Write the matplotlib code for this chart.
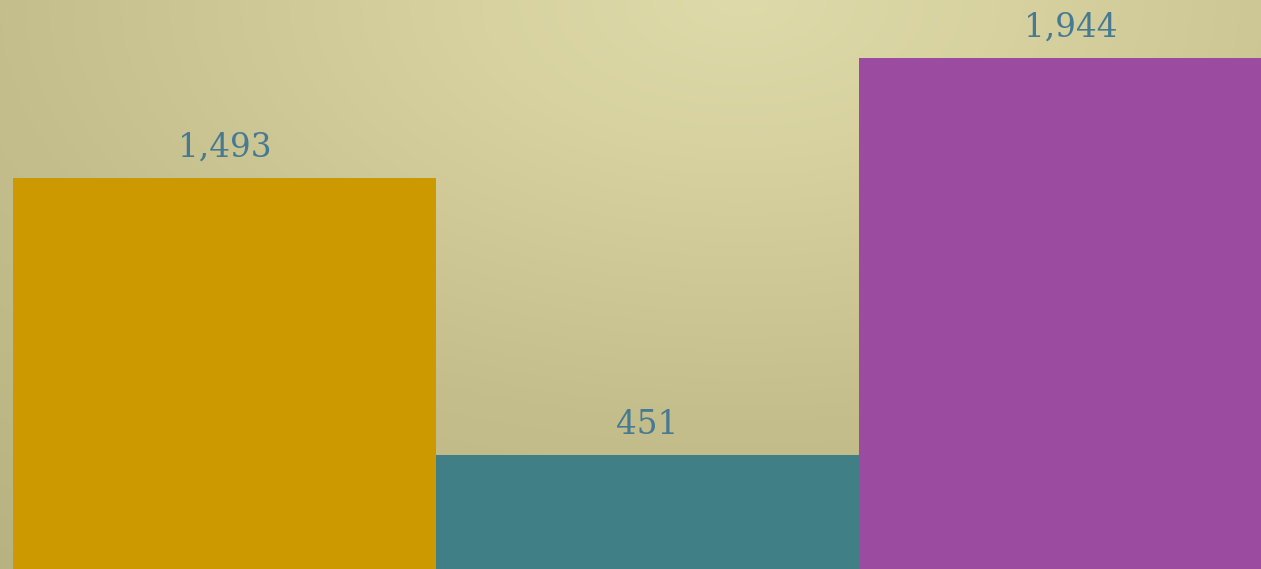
import numpy as np
import matplotlib
matplotlib.use("Agg")
import matplotlib.pyplot as plt
from matplotlib.colors import to_rgb

# Data
categories = ["A", "B", "C"]
values = [1493, 451, 1944]
bar_colors = ["#cc9900", "#417f87", "#9c4ca0"]

LABEL_COLOR = "#467a93"
W, H = 1261, 569

fig = plt.figure(figsize=(W / 100, H / 100), dpi=100)

# --- background: soft elliptical gradient, light at top centre ---
bg = fig.add_axes([0, 0, 1, 1])
yy, xx = np.mgrid[0:H, 0:W]
r = np.sqrt(((xx - 740) / 740.0) ** 2 + (yy / 419.0) ** 2)
stops_r = [0.0, 0.35, 1.0, 1.7]
stops_c = [to_rgb("#dedaa9"), to_rgb("#d7d2a0"), to_rgb("#c4be8c"), to_rgb("#b8b181")]
img = np.zeros((H, W, 3))
for ch in range(3):
    img[..., ch] = np.interp(r, stops_r, [c[ch] for c in stops_c])
bg.imshow(img, aspect="auto", extent=[0, 1, 0, 1], origin="upper")
bg.axis("off")

# --- bars ---
ax = fig.add_axes([0, 0, 1, 1])
ax.patch.set_alpha(0)
x = np.arange(len(categories))
ax.bar(x, values, width=1.0, color=bar_colors, linewidth=0)
for xi, v in zip(x, values):
    ax.annotate(f"{v:,}", (xi, v), xytext=(0, 15.5), textcoords="offset points",
                ha="center", va="baseline", fontsize=23.5, color=LABEL_COLOR,
                family="DejaVu Serif")

ax.set_xlim(-0.5307, 2.4504)
ax.set_ylim(23.5, 2162)
ax.axis("off")

fig.savefig("out.png", dpi=100)
